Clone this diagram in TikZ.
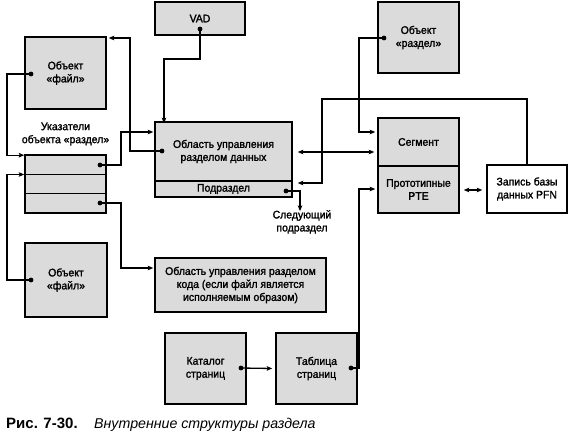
\documentclass[tikz,border=0pt]{standalone}
\usepackage{fontspec}
\setmainfont{Liberation Sans}
\newfontfamily\boxfont{Liberation Sans}[FakeBold=1.6,FakeStretch=0.95]
\usetikzlibrary{arrows.meta,calc}
\begin{document}
\begin{tikzpicture}[x=1pt,y=-1pt,
  box/.style={draw, line width=1.5pt, fill=black!14, inner sep=0pt, align=center,
    font=\boxfont\fontsize{11}{13}\selectfont},
  wbox/.style={box, fill=white},
  lbl/.style={inner sep=0pt, align=center, font=\boxfont\fontsize{11}{13}\selectfont},
  conn/.style={line width=1.3pt, -{Stealth[length=5.5pt,width=4.5pt,inset=1pt]}},
  dconn/.style={line width=1.3pt, {Stealth[length=5.5pt,width=4.5pt,inset=1pt]}-{Stealth[length=5.5pt,width=4.5pt,inset=1pt]}},
  dotc/.style={fill, circle, inner sep=0pt, minimum size=4.8pt}]
\useasboundingbox (0,0) rectangle (570,436);
% boxes
\node[box, minimum width=90pt, minimum height=33pt] (vad) at (200,18.5) {VAD};
\node[box, minimum width=81pt, minimum height=72pt] (file1) at (65.5,73) {Объект\\«файл»};
\node[lbl] (ptrlbl) at (65.5,134) {Указатели\\объекта «раздел»};
\node[box, minimum width=81pt, minimum height=19.3pt] (row1) at (65.5,164.6) {};
\node[box, minimum width=81pt, minimum height=19.3pt] (row2) at (65.5,183.9) {};
\node[box, minimum width=81pt, minimum height=19.3pt] (row3) at (65.5,203.2) {};
\node[box, minimum width=82pt, minimum height=74pt] (file2) at (66,280) {Объект\\«файл»};
\node[box, minimum width=137pt, minimum height=59pt] (ctrl) at (223.5,151.5) {Область управления\\разделом данных};
\node[box, minimum width=137pt, minimum height=16pt] (sub) at (223.5,189) {Подраздел};
\node[lbl] (next) at (302,222) {Следующий\\подраздел};
\node[box, minimum width=171pt, minimum height=54pt] (code) at (240.5,285) {Область управления разделом\\кода (если файл является\\исполняемым образом)};
\node[box, minimum width=81pt, minimum height=71pt] (razdel) at (418.5,37.5) {Объект\\«раздел»};
\node[box, minimum width=81pt, minimum height=48pt] (seg) at (418.5,142) {Сегмент};
\node[box, minimum width=81pt, minimum height=47pt] (pte) at (418.5,189.5) {Прототипные\\PTE};
\node[wbox, minimum width=80pt, minimum height=48pt] (pfn) at (527,189) {Запись базы\\данных PFN};
\node[box, minimum width=81pt, minimum height=71pt] (cat) at (205.5,368.5) {Каталог\\страниц};
\node[box, minimum width=81pt, minimum height=71pt] (tab) at (316.5,368.5) {Таблица\\страниц};
% caption
\node[anchor=base west, inner sep=0pt, font=\fontsize{15}{17}\selectfont\bfseries] (cap1) at (6,428) {Рис. 7-30.};
\node[anchor=base west, inner sep=0pt, font=\fontsize{14.2}{16}\selectfont\itshape] (cap2) at (94,428) {Внутренние структуры раздела};
% dots
\node[dotc] (df1) at (31,74) {};
\node[dotc] (df2) at (31,280) {};
\node[dotc] (dr1) at (100,165) {};
\node[dotc] (dr3) at (100,203) {};
\node[dotc] (dctrl) at (162,151) {};
\node[dotc] (dvad) at (200,29) {};
\node[dotc] (dsub) at (286,191) {};
\node[dotc] (draz) at (384,38) {};
\node[dotc] (dcat) at (241,368) {};
\node[dotc] (dtab) at (351,368) {};
% connectors
\draw[conn] (df1.center) -- (7,74) |- ([yshift=-1pt]row1.north west);
\draw[conn] (df2.center) -- (7,280) |- ([yshift=-1pt]row2.north west);
\draw[conn] (dr1.center) -- (121,165) |- ([xshift=-1pt]ctrl.west |- 0,132);
\draw[conn] (dctrl.center) -- (130,151) |- ([xshift=2pt]file1.east |- 0,38);
\draw[conn] (dvad.center) -- (200,59) -| ([yshift=-2pt]ctrl.north -| 164,0);
\draw[conn] (dr3.center) -- (121,203) |- ([xshift=-1pt]code.west |- 0,268);
\draw[conn] (dsub.center) -| ([yshift=-1pt]next.north -| 300,0);
\draw[dconn] ([xshift=5pt]ctrl.east |- 0,152) -- ([xshift=-3pt]seg.west |- 0,152);
\draw[conn] (pfn.north) |- (322,99) |- ([xshift=5pt]sub.east |- 0,183);
\draw[conn] (draz.center) -- (359,38) |- ([xshift=-2pt]seg.west |- 0,132);
\draw[conn] (dtab.center) -- (359,368) |- ([xshift=-2pt]pte.west |- 0,189);
\draw[dconn] ([xshift=4pt]pte.east |- 0,190) -- ([xshift=-4pt]pfn.west |- 0,190);
\draw[conn] (dcat.center) -- ([xshift=-3pt]tab.west);
\end{tikzpicture}
\end{document}
